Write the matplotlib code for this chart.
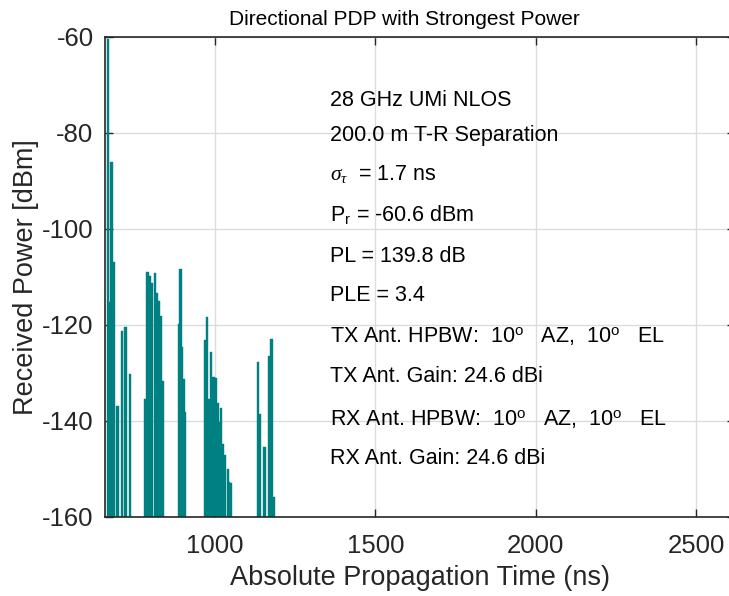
import matplotlib
matplotlib.use("Agg")
import matplotlib.pyplot as plt

plt.rcParams['font.family'] = ['Liberation Sans', 'DejaVu Sans']
plt.rcParams['mathtext.fontset'] = 'custom'
plt.rcParams['mathtext.rm'] = 'Liberation Sans'
plt.rcParams['mathtext.it'] = 'Liberation Serif:italic'
plt.rcParams['axes.unicode_minus'] = False

# multipath components: delay (ns), power (dBm)
delays = [667, 672, 678, 687, 697, 710, 722, 735,
          782, 790, 797, 804, 814, 821, 826, 831, 838,
          888, 893, 899, 903, 908,
          969, 976, 982, 988, 996, 1003, 1009, 1013, 1020, 1026, 1032, 1040, 1045, 1051,
          1135, 1142, 1155, 1170, 1177, 1185]
powers = [-60.6, -115.3, -86.2, -107.0, -136.8, -121.2, -120.5, -130.2,
          -135.4, -109.0, -109.8, -111.2, -109.3, -113.3, -115.0, -118.1, -131.6,
          -119.8, -108.4, -124.6, -131.3, -138.1,
          -123.1, -118.3, -135.4, -125.6, -130.8, -131.0, -136.3, -140.3, -137.4,
          -144.8, -147.2, -150.1, -152.7, -153.0,
          -127.8, -138.5, -145.4, -126.4, -123.0, -155.8]

deg = r"$^{\mathrm{o}}$"
info_lines = [
    "28 GHz UMi NLOS",
    "200.0 m T-R Separation",
    r"$\sigma_{\tau}$  = 1.7 ns",
    r"P$_{\rm r}$ = -60.6 dBm",
    "PL = 139.8 dB",
    "PLE = 3.4",
    "TX Ant. HPBW:  10" + deg + "   AZ,  10" + deg + "   EL",
    "TX Ant. Gain: 24.6 dBi",
    "RX Ant. HPBW:  10" + deg + "   AZ,  10" + deg + "   EL",
    "RX Ant. Gain: 24.6 dBi",
]
info_y = [100, 136, 174, 214, 256, 296, 337, 377, 420, 459]

floor = -160
fig = plt.figure(figsize=(7.29, 5.96), dpi=100)
ax = fig.add_axes([0.1436, 0.1326, 0.8644, 0.806])

ax.bar(delays, [p - floor for p in powers], bottom=floor, width=7,
       color='#008080', edgecolor='#008080', linewidth=0.3, zorder=2)

ax.set_xlim(657, 2620)
ax.set_ylim(-160, -60)
ax.set_xticks([1000, 1500, 2000, 2500])
ax.set_yticks([-160, -140, -120, -100, -80, -60])
ax.grid(True, color='#dcdcdc', linewidth=1.0, zorder=0)
ax.set_axisbelow(True)
ax.tick_params(direction='in', length=6, width=1, colors='#262626',
               labelsize=18.5, top=True, right=True)
ax.tick_params(axis='x', pad=12)
ax.tick_params(axis='y', pad=8)
for s in ax.spines.values():
    s.set_color('#262626')
    s.set_linewidth(1.2)

ax.set_xlabel("Absolute Propagation Time (ns)", fontsize=19.5, color='#262626', labelpad=5)
ax.set_ylabel("Received Power [dBm]", fontsize=19.5, color='#262626', labelpad=2)
ax.set_title("Directional PDP with Strongest Power", fontsize=15, color='#000000',
             pad=8, x=(404 - 104.7) / 630.2)

for line, yc in zip(info_lines, info_y):
    fig.text(330 / 729, 1 - yc / 596, line, fontsize=15.5, va='center', ha='left', color='#000000')

fig.savefig("out.png", dpi=100)
